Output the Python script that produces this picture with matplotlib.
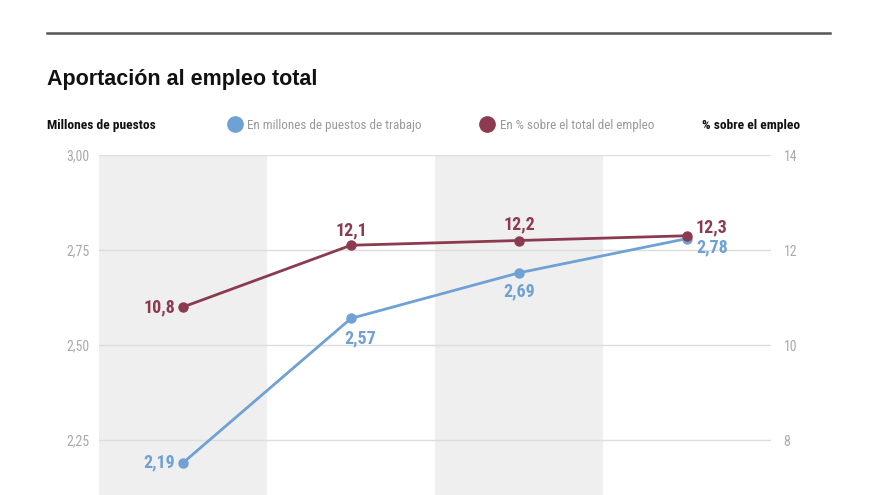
import matplotlib
matplotlib.use("Agg")
import matplotlib.pyplot as plt
from matplotlib import font_manager as fm
from matplotlib.lines import Line2D

# ---- data ----
categories = ["A", "B", "C", "D"]
puestos = [2.19, 2.57, 2.69, 2.78]          # millones de puestos
pct_empleo = [10.8, 12.1, 12.2, 12.3]       # % sobre el total del empleo
left_ticks = [2.25, 2.50, 2.75, 3.00]
left_tick_labels = ["2,25", "2,50", "2,75", "3,00"]
right_ticks = [8, 10, 12, 14]
right_tick_labels = ["8", "10", "12", "14"]
title = "Aportación al empleo total"
left_label = "Millones de puestos"
right_label = "% sobre el empleo"
legend_blue = "En millones de puestos de trabajo"
legend_red = "En % sobre el total del empleo"


def _weight(w):
    if isinstance(w, str):
        return {"bold": 700, "heavy": 800, "black": 900, "semibold": 600,
                "demibold": 600, "extra bold": 800}.get(w.lower(), 400)
    return int(w)


_fonts = fm.fontManager.ttflist
_reg = {f.name for f in _fonts}
_bold = {f.name for f in _fonts if _weight(f.weight) >= 700}
_cands = ["Archivo Narrow", "Roboto Condensed", "PT Sans Narrow", "Fira Sans Condensed",
          "Barlow Condensed", "Encode Sans Condensed", "Open Sans Condensed"]
NARROW_B = next((n for n in _cands if n in _bold), "Liberation Sans")
NARROW = NARROW_B if NARROW_B in _reg else "Liberation Sans"
WIDE = "Liberation Sans"

BLUE = "#6fa1d4"
RED = "#8b3a4f"
BAND = "#efefef"
GRID = "#dddddd"
TICK = "#aaaaaa"

W, H = 880, 495
fig = plt.figure(figsize=(W / 100, H / 100), dpi=100)

def fx(px):
    return px / W

def fy(py):
    return 1 - py / H

# axes spanning from y=155px (3.00) down to 535px (2.00), partly off-figure
ax = fig.add_axes([fx(99), fy(535), fx(771) - fx(99), (535 - 155) / H])
ax.set_xlim(-0.5, len(categories) - 0.5)
ax.set_ylim(2.00, 3.00)
ax2 = ax.twinx()
ax2.set_ylim(6, 14)

for i in range(len(categories)):
    if i % 2 == 0:
        ax.axvspan(i - 0.5, i + 0.5, color=BAND, zorder=0, lw=0)

for t in left_ticks:
    ax.axhline(t, color=GRID, lw=1, zorder=1)

for a in (ax, ax2):
    for s in a.spines.values():
        s.set_visible(False)
    a.set_xticks([])

ax.set_yticks(left_ticks)
ax.set_yticklabels(left_tick_labels, fontfamily=NARROW, fontsize=10, color=TICK)
ax.tick_params(axis="y", length=0, pad=7)
ax2.set_yticks(right_ticks)
ax2.set_yticklabels(right_tick_labels, fontfamily=NARROW, fontsize=10, color=TICK)
ax2.tick_params(axis="y", length=0, pad=9)

x = list(range(len(categories)))
ax.plot(x, puestos, color=BLUE, lw=2, marker="o", ms=6.5, zorder=3, clip_on=False)
ax2.plot(x, pct_empleo, color=RED, lw=2, marker="o", ms=6.5, zorder=3, clip_on=False)

lab_kw = dict(fontfamily=NARROW_B, fontsize=13, fontweight="bold", textcoords="offset pixels")

def fmt(v, d):
    return f"{v:.{d}f}".replace(".", ",")

# blue labels
blue_off = [(-8, 0, "right", "center"), (9, -20, "center", "center"),
            (0, -19, "center", "center"), (9, -9, "left", "center")]
for xi, v, (dx, dy, ha, va) in zip(x, puestos, blue_off):
    ax.annotate(fmt(v, 2), (xi, v), xytext=(dx, dy), ha=ha, va=va, color=BLUE, **lab_kw)

red_off = [(-8, 0, "right", "center"), (0, 15, "center", "center"),
           (0, 16, "center", "center"), (9, 8, "left", "center")]
for xi, v, (dx, dy, ha, va) in zip(x, pct_empleo, red_off):
    ax2.annotate(fmt(v, 1), (xi, v), xytext=(dx, dy), ha=ha, va=va, color=RED, **lab_kw)

# header elements
fig.add_artist(Line2D([fx(47), fx(830)], [fy(33), fy(33)], color="#555555", lw=1.8))
fig.text(fx(47), fy(80), title, fontfamily=WIDE, fontsize=15.5, fontweight="bold",
         color="#111111", va="center", ha="left")

fig.text(fx(47), fy(125), left_label, fontfamily=NARROW_B, fontsize=9.7, fontweight="bold",
         color="#111111", va="center", ha="left")
fig.text(fx(800), fy(125), right_label, fontfamily=NARROW_B, fontsize=9.7, fontweight="bold",
         color="#111111", va="center", ha="right")

fig.add_artist(Line2D([fx(235)], [fy(124)], marker="o", ms=11, color=BLUE, lw=0))
fig.text(fx(247), fy(125), legend_blue, fontfamily=NARROW, fontsize=9.4,
         color="#999999", va="center", ha="left")
fig.add_artist(Line2D([fx(487)], [fy(124)], marker="o", ms=11, color=RED, lw=0))
fig.text(fx(500), fy(125), legend_red, fontfamily=NARROW, fontsize=9.4,
         color="#999999", va="center", ha="left")

fig.savefig("out.png", dpi=100)
